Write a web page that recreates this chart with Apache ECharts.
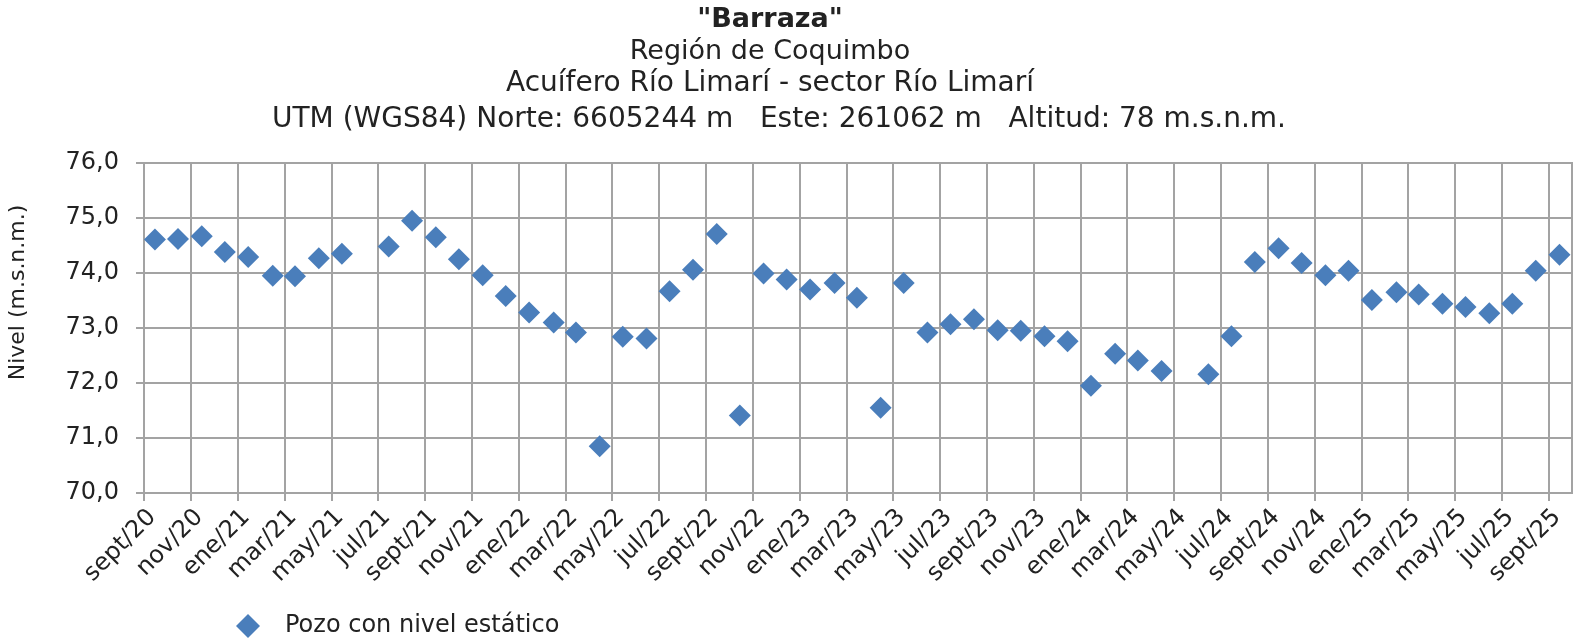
<!DOCTYPE html>
<html>
<head>
<meta charset="utf-8">
<script src="https://cdn.jsdelivr.net/npm/echarts@6/dist/echarts.min.js"></script>
<style>
  html, body { margin: 0; background: #fff; }
  #chart { width: 1582px; height: 638px; }
</style>
</head>
<body>
<div id="chart"></div>
<script>
// fechas de medición (aprox. mitad de mes)
const fechas = [
  '2020-09-15', '2020-10-15', '2020-11-15', '2020-12-15',
  '2021-01-15', '2021-02-15', '2021-03-15', '2021-04-15', '2021-05-15',
  '2021-07-15', '2021-08-15', '2021-09-15', '2021-10-15', '2021-11-15', '2021-12-15',
  '2022-01-15', '2022-02-15', '2022-03-15', '2022-04-15', '2022-05-15', '2022-06-15',
  '2022-07-15', '2022-08-15', '2022-09-15', '2022-10-15', '2022-11-15', '2022-12-15',
  '2023-01-15', '2023-02-15', '2023-03-15', '2023-04-15', '2023-05-15', '2023-06-15',
  '2023-07-15', '2023-08-15', '2023-09-15', '2023-10-15', '2023-11-15', '2023-12-15',
  '2024-01-15', '2024-02-15', '2024-03-15', '2024-04-15', '2024-06-15',
  '2024-07-15', '2024-08-15', '2024-09-15', '2024-10-15', '2024-11-15', '2024-12-15',
  '2025-01-15', '2025-02-15', '2025-03-15', '2025-04-15', '2025-05-15', '2025-06-15',
  '2025-07-15', '2025-08-15', '2025-09-15'
]

const niveles = [
  74.61, 74.62, 74.67, 74.38,
  74.29, 73.95, 73.94, 74.27, 74.35,
  74.48, 74.95, 74.65, 74.25, 73.96, 73.58,
  73.28, 73.10, 72.92, 70.85, 72.84, 72.81,
  73.67, 74.06, 74.71, 71.41, 73.99, 73.88,
  73.70, 73.82, 73.55, 71.55, 73.82, 72.92,
  73.07, 73.16, 72.96, 72.95, 72.85, 72.76,
  71.95, 72.53, 72.41, 72.22, 72.16,
  72.85, 74.20, 74.45, 74.18, 73.96, 74.04,
  73.51, 73.65, 73.61, 73.44, 73.38, 73.27,
  73.44, 74.04, 74.33
]

// una etiqueta cada 2 meses desde sept/20
const etiquetasX = [
  'sept/20', 'nov/20',
  'ene/21', 'mar/21', 'may/21', 'jul/21', 'sept/21', 'nov/21',
  'ene/22', 'mar/22', 'may/22', 'jul/22', 'sept/22', 'nov/22',
  'ene/23', 'mar/23', 'may/23', 'jul/23', 'sept/23', 'nov/23',
  'ene/24', 'mar/24', 'may/24', 'jul/24', 'sept/24', 'nov/24',
  'ene/25', 'mar/25', 'may/25', 'jul/25', 'sept/25'
]

const titulos = [
  '"Barraza"',
  'Región de Coquimbo',
  'Acuífero Río Limarí - sector Río Limarí',
  'UTM (WGS84) Norte: 6605244 m   Este: 261062 m   Altitud: 78 m.s.n.m.'
]

const serieNombre = 'Pozo con nivel estático'

// eje x en meses contados desde sept/2020
function mesesDesdeInicio(fecha) {
  const [a, m, d] = fecha.split('-').map(Number)
  const dias = new Date(a, m, 0).getDate()
  return (a - 2020) * 12 + (m - 9) + (d - 1) / dias
}

const puntos = fechas.map((f, i) => [mesesDesdeInicio(f), niveles[i]])
const ticksX = etiquetasX.map((_, i) => i * 2)

const gris = '#a3a3a3'
const texto = '#222222'
const azul = '#4a7ebb'
const fuente = 'DejaVu Sans'

// posición y tamaño de cada línea del título
const tituloTop = [6, 38, 70, 106]
const tituloLeft = [770, 770, 770, 779]
const tituloSize = [27, 27, 28, 28]

const chart = echarts.init(document.getElementById('chart'))

chart.setOption({
  animation: false,
  title: titulos.map((t, i) => ({
    text: t,
    left: tituloLeft[i],
    top: tituloTop[i],
    textAlign: 'center',
    padding: 0,
    textStyle: {
      fontFamily: fuente,
      fontSize: tituloSize[i],
      fontWeight: i === 0 ? 'bold' : 'normal',
      color: texto
    }
  })),
  legend: {
    data: [serieNombre],
    left: 236,
    top: 614,
    padding: 0,
    icon: 'diamond',
    itemWidth: 24,
    itemHeight: 24,
    itemStyle: { color: azul, opacity: 1 },
    textStyle: {
      fontFamily: fuente,
      fontSize: 24,
      color: texto,
      padding: [0, 0, 0, 20]
    }
  },
  grid: {
    left: 144,
    right: 10,
    top: 163,
    bottom: 145,
    outerBoundsMode: 'none',
    containLabel: false,
    show: true,
    borderColor: gris,
    borderWidth: 2
  },
  xAxis: {
    type: 'value',
    min: 0,
    max: 61,
    interval: 2,
    axisLine: { lineStyle: { color: gris, width: 2 } },
    axisTick: {
      length: 8,
      customValues: ticksX,
      lineStyle: { color: gris, width: 2 }
    },
    splitLine: { lineStyle: { color: gris, width: 2 } },
    axisLabel: {
      customValues: ticksX,
      rotate: 45,
      margin: 12,
      verticalAlign: 'top',
      fontFamily: fuente,
      fontSize: 24,
      color: texto,
      formatter: v => etiquetasX[Math.round(v / 2)] || ''
    }
  },
  yAxis: {
    type: 'value',
    min: 70,
    max: 76,
    interval: 1,
    name: 'Nivel (m.s.n.m.)',
    nameLocation: 'middle',
    nameGap: 115,
    nameTextStyle: {
      fontFamily: fuente,
      fontSize: 22,
      color: texto,
      padding: [0, 0, 0, 71]
    },
    axisLine: { show: true, lineStyle: { color: gris, width: 2 } },
    axisTick: { show: true, length: 8, lineStyle: { color: gris, width: 2 } },
    splitLine: { lineStyle: { color: gris, width: 2 } },
    axisLabel: {
      margin: 25,
      fontFamily: fuente,
      fontSize: 24,
      color: texto,
      formatter: v => v.toFixed(1).replace('.', ',')
    }
  },
  series: [{
    name: serieNombre,
    type: 'scatter',
    symbol: 'diamond',
    symbolSize: 22,
    itemStyle: { color: azul, opacity: 1 },
    data: puntos
  }]
})
</script>
</body>
</html>
